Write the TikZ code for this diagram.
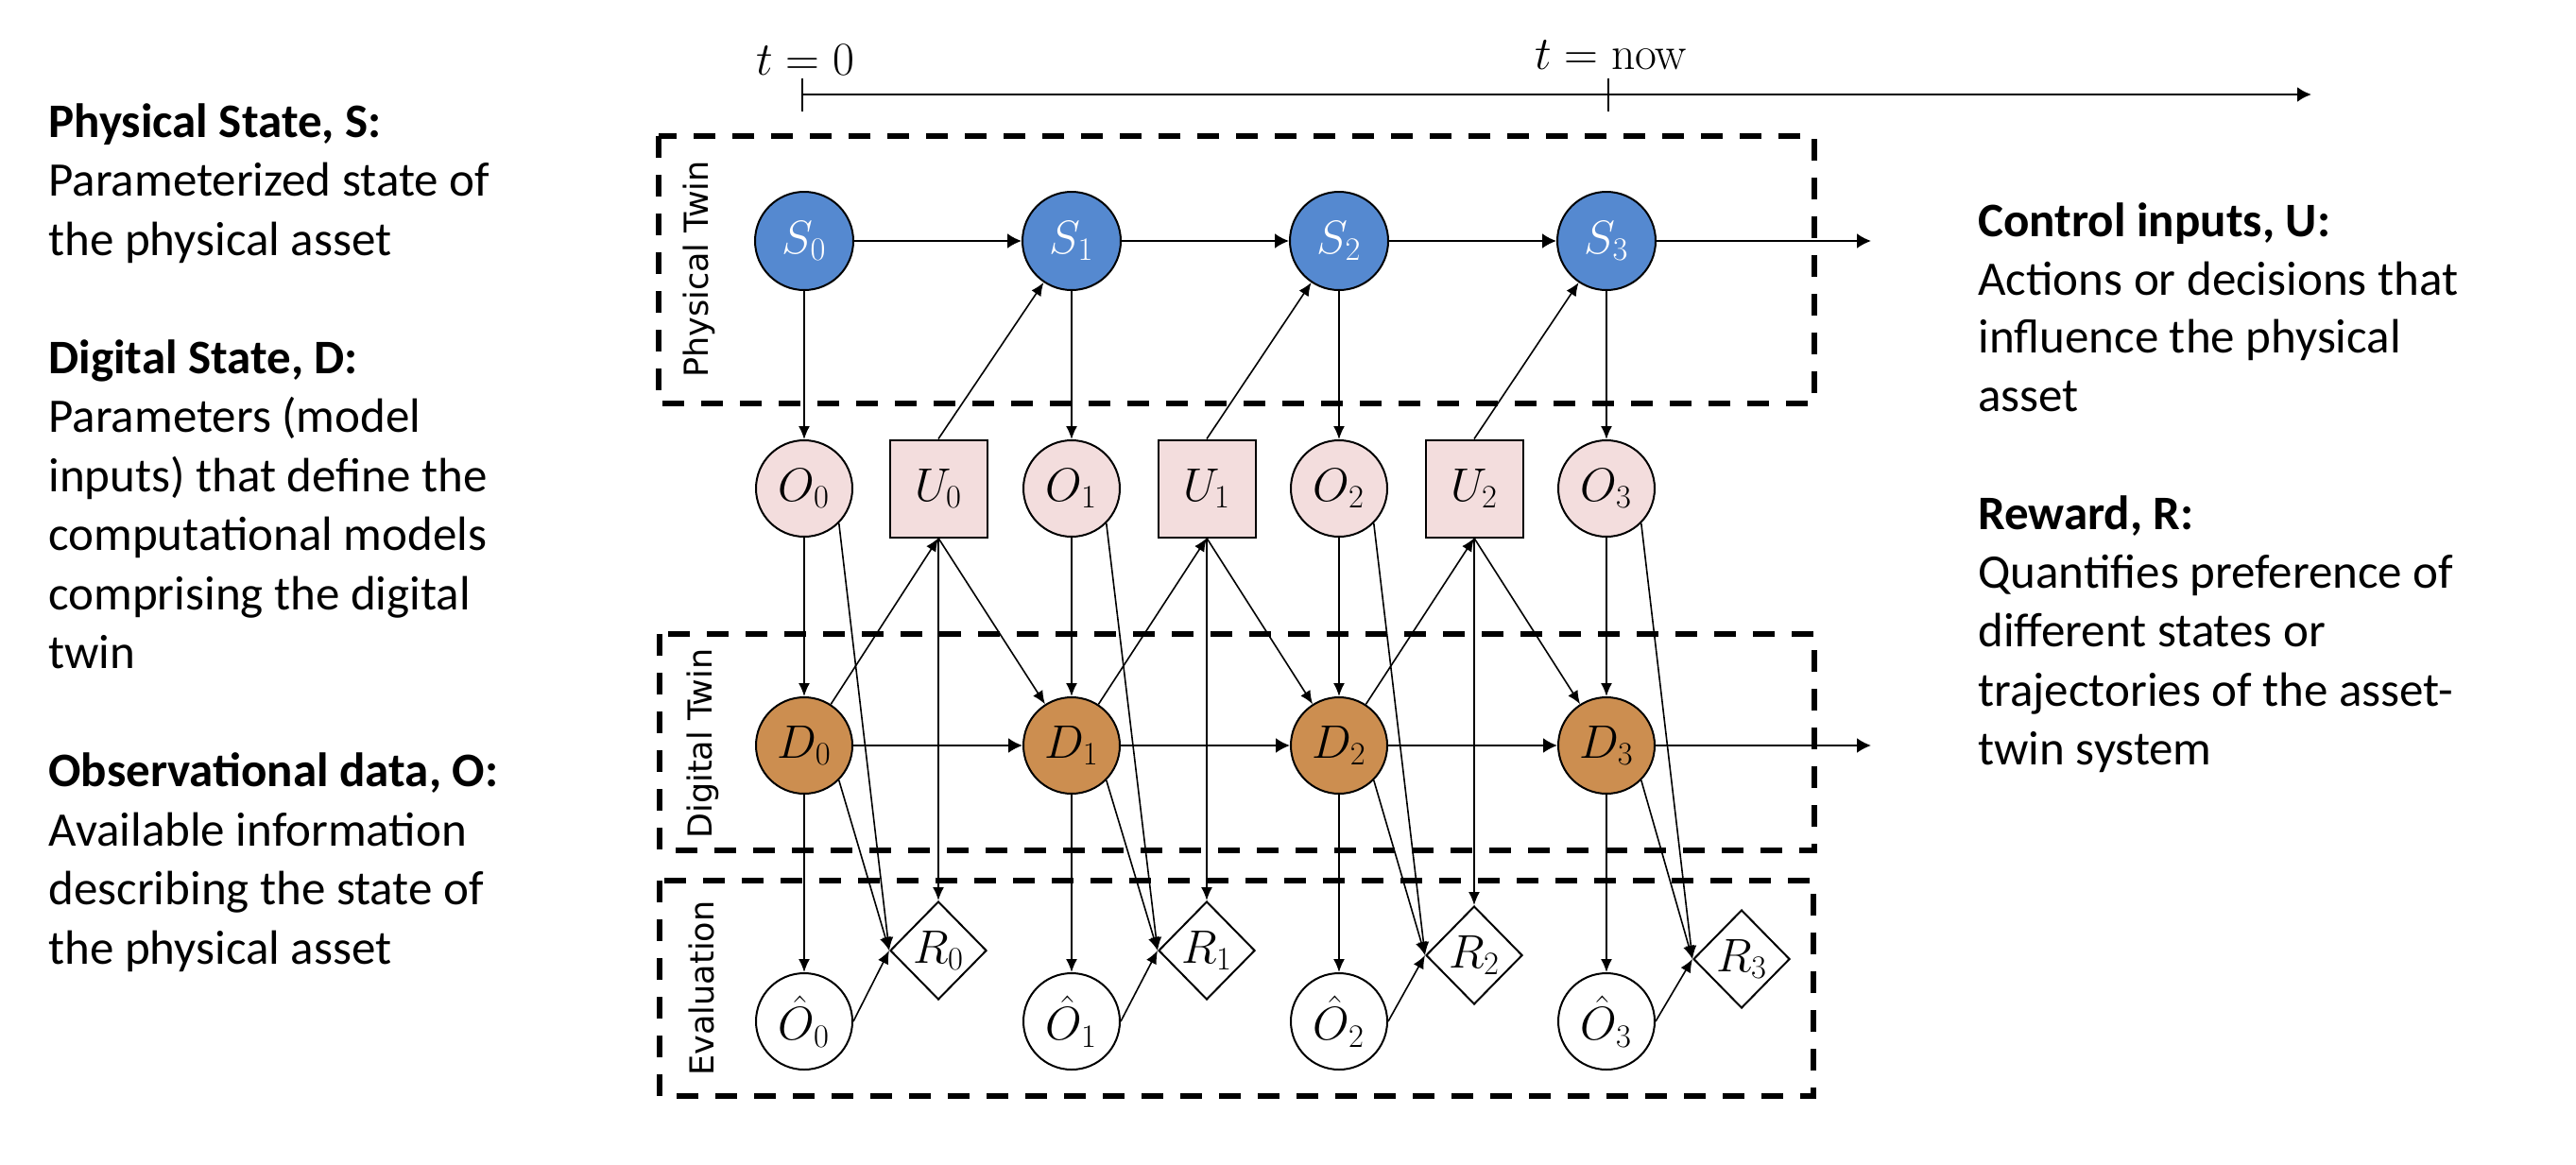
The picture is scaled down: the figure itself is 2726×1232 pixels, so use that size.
\documentclass[tikz,border=0pt]{standalone}
\usepackage[no-math]{fontspec}
\setmainfont{Carlito}
\newfontfamily\sidefont{DejaVu Sans}
\usetikzlibrary{arrows.meta,shapes.geometric}
\definecolor{sblue}{RGB}{85,137,208}
\definecolor{dbrown}{RGB}{204,142,80}
\definecolor{opink}{RGB}{243,221,221}
\newcommand\nodemath{\fontsize{25}{29}\selectfont}
\newcommand\desctext{\fontsize{25.5}{31}\selectfont}
\begin{document}
\begin{tikzpicture}[x=0.5pt,y=-0.5pt,
  arr/.style={line width=0.8pt,-{Latex[length=7pt,width=6pt]}},
  tarr/.style={line width=1.1pt,-{Latex[length=7.5pt,width=8pt]}},
  twinbox/.style={line width=2.8pt,dash pattern=on 11.5pt off 9pt},
  basenode/.style={draw,line width=1pt,inner sep=0pt,font=\nodemath},
  snode/.style={basenode,circle,minimum size=52pt,fill=sblue,text=white},
  onode/.style={basenode,circle,minimum size=51pt,fill=opink},
  dnode/.style={basenode,circle,minimum size=51pt,fill=dbrown},
  hnode/.style={basenode,circle,minimum size=51pt,fill=white},
  unode/.style={basenode,rectangle,minimum size=51.5pt,fill=opink},
  rnode/.style={basenode,diamond,minimum width=51pt,minimum height=52pt,fill=white},
  sidelabel/.style={rotate=90,font=\sidefont\fontsize{17.5}{21}\selectfont,inner sep=0pt},
  desc/.style={anchor=base west,inner sep=0pt,font=\desctext}
]
\useasboundingbox (0,0) rectangle (2726,1232);
\fill[white] (0,0) rectangle (2726,1232);

% time axis
\coordinate (ta) at (849,100);
\coordinate (tb) at (2446,100);
\coordinate (k0a) at (849,83);
\coordinate (k0b) at (849,118);
\coordinate (k1a) at (1702,83);
\coordinate (k1b) at (1702,118);
\draw[line width=1.3pt,-{Latex[length=7.5pt,width=8pt]}] (ta) -- (tb);
\draw[line width=0.8pt] (k0a) -- (k0b);
\draw[line width=0.8pt] (k1a) -- (k1b);
\node[anchor=base,font=\nodemath,inner sep=0pt] (tzero) at (852,79) {$t=0$};
\node[anchor=base,font=\nodemath,inner sep=0pt] (tnow) at (1705,73) {$t=\mathrm{now}$};

% dashed boxes
\draw[twinbox] (697,144) rectangle (1920,427);
\draw[twinbox] (698,671) rectangle (1920,900);
\draw[twinbox] (698,932) rectangle (1919,1160);
\node[sidelabel] (lphys) at (740,285) {Physical Twin};
\node[sidelabel] (ldig) at (744,787) {Digital Twin};
\node[sidelabel] (leval) at (742,1046) {Evaluation};

% nodes
\foreach \k/\x in {0/851,1/1134,2/1417,3/1700} {
  \node[snode] (S\k) at (\x,255) {$S_\k$};
  \node[onode] (O\k) at (\x,517) {$O_\k$};
  \node[dnode] (D\k) at (\x,789) {$D_\k$};
  \node[hnode] (H\k) at (\x,1081) {$\hat{O}_\k$};
}
\foreach \k/\x in {0/993,1/1277,2/1560}
  \node[unode] (U\k) at (\x,517) {$U_\k$};
\foreach \k/\x/\y in {0/993/1006,1/1277/1006,2/1560/1011,3/1843/1015}
  \node[rnode] (R\k) at (\x,\y) {$R_\k$};

\coordinate (Send) at (1980,255);
\coordinate (Dend) at (1980,789);

% edges
\foreach \k in {0,1,2,3} {
  \draw[arr] (S\k) -- (O\k);
  \draw[arr] (O\k) -- (D\k);
  \draw[arr] (D\k) -- (H\k);
  \draw[arr] (O\k.south east) -- (R\k.west);
  \draw[arr] (D\k.south east) -- (R\k.west);
  \draw[arr] (H\k.east) -- (R\k.west);
}
\foreach \k in {0,1,2} {
  \pgfmathtruncatemacro\nxt{\k+1}
  \draw[tarr] (S\k) -- (S\nxt);
  \draw[tarr] (D\k) -- (D\nxt);
  \draw[arr] (U\k.north) -- (S\nxt);
  \draw[arr] (D\k) -- (U\k.south);
  \draw[arr] (U\k.south) -- (D\nxt);
  \draw[arr] (U\k.south) -- (R\k.north);
}
\draw[tarr] (S3) -- (Send);
\draw[tarr] (D3) -- (Dend);

% left descriptions
\foreach \yy/\txt [count=\i] in {
  145/{\textbf{Physical State, S:}},
  207.5/{Parameterized state of},
  270/{the physical asset},
  395/{\textbf{Digital State, D:}},
  457.5/{Parameters (model},
  520/{inputs) that define the},
  582.5/{computational models},
  645/{comprising the digital},
  707.5/{twin},
  832.5/{\textbf{Observational data, O:}},
  895/{Available information},
  957.5/{describing the state of},
  1020/{the physical asset}}
  \node[desc] (left\i) at (51,\yy) {\txt};

% right descriptions
\foreach \yy/\txt [count=\i] in {
  250/{\textbf{Control inputs, U:}},
  312/{Actions or decisions that},
  373.5/{influence the physical},
  435/{asset},
  560/{\textbf{Reward, R:}},
  622/{Quantifies preference of},
  684.5/{different states or},
  747/{trajectories of the asset-},
  809/{twin system}}
  \node[desc] (right\i) at (2093,\yy) {\txt};
\end{tikzpicture}
\end{document}
